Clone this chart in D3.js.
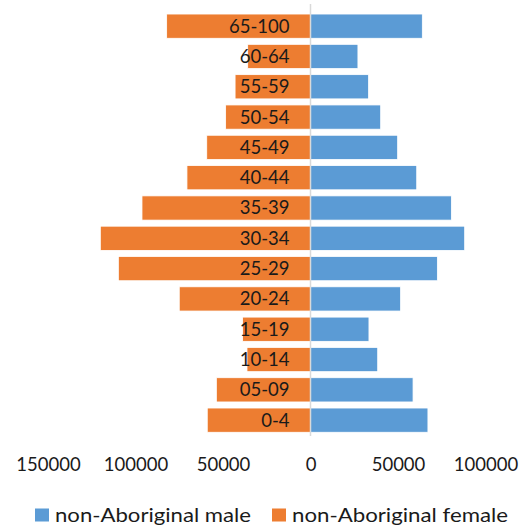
<!DOCTYPE html>
<html>
<head>
<meta charset="utf-8">
<script src="https://cdn.jsdelivr.net/npm/d3@7"></script>
<style>
  html, body { margin: 0; padding: 0; background: #fff; }
  svg { display: block; font-family: Lato, "Open Sans", sans-serif; }
</style>
</head>
<body>
<svg id="chart" width="525" height="526"></svg>
<script>
// Age groups, youngest first
const ageGroups = ["0-4", "05-09", "10-14", "15-19", "20-24", "25-29", "30-34",
                   "35-39", "40-44", "45-49", "50-54", "55-59", "60-64", "65-100"];
const maleValues = [67100, 58600, 38400, 33400, 51500, 72500, 88100,
                    80500, 60700, 49800, 40100, 33200, 27100, 63900];
const femaleValues = [59000, 53800, 36300, 38800, 75000, 109800, 120100,
                      96300, 70600, 59300, 48500, 43100, 35900, 82200];
const tickValues = [-150000, -100000, -50000, 0, 50000, 100000];
const seriesNames = ["non-Aboriginal male", "non-Aboriginal female"];
const seriesColors = ["#5B9BD5", "#ED7D31"];

const svg = d3.select("#chart");

const x = d3.scaleLinear().domain([-150000, 100000]).range([48, 485.5]);
const y = d3.scaleBand()
  .domain(ageGroups.slice().reverse())
  .range([11, 435.3])
  .paddingInner(0.2)
  .paddingOuter(0.1);

const rows = ageGroups.map((g, i) => ({ group: g, male: maleValues[i], female: femaleValues[i] }));

// Female bars extend to the left of zero
svg.append("g").selectAll("rect")
  .data(rows)
  .join("rect")
  .attr("x", d => x(-d.female))
  .attr("y", d => y(d.group))
  .attr("width", d => x(0) - x(-d.female))
  .attr("height", y.bandwidth())
  .attr("fill", seriesColors[1])
  .attr("stroke", "#fff")
  .attr("stroke-width", 0.8);

// Male bars extend to the right
svg.append("g").selectAll("rect")
  .data(rows)
  .join("rect")
  .attr("x", x(0))
  .attr("y", d => y(d.group))
  .attr("width", d => x(d.male) - x(0))
  .attr("height", y.bandwidth())
  .attr("fill", seriesColors[0])
  .attr("stroke", "#fff")
  .attr("stroke-width", 0.8);

// Zero line
svg.append("line")
  .attr("x1", x(0)).attr("x2", x(0))
  .attr("y1", 4).attr("y2", 436)
  .attr("stroke", "#D9D9D9")
  .attr("stroke-width", 1.5);

// Category labels sit just left of the zero line
svg.append("g").selectAll("text")
  .data(rows)
  .join("text")
  .attr("x", x(0) - 21)
  .attr("y", d => y(d.group) + y.bandwidth() / 2)
  .attr("dy", "0.35em")
  .attr("text-anchor", "end")
  .attr("font-size", 18.5)
  .attr("fill", "#1a1a1a")
  .text(d => d.group);

// Value axis without domain or tick lines
const xAxis = d3.axisBottom(x)
  .tickValues(tickValues)
  .tickFormat(d => String(Math.abs(d)))
  .tickSize(0);
const axisG = svg.append("g")
  .attr("transform", "translate(0,455)")
  .call(xAxis);
axisG.select(".domain").remove();
axisG.selectAll("text")
  .attr("font-size", 18.5)
  .attr("font-family", "Lato, 'Open Sans', sans-serif")
  .attr("fill", "#1a1a1a")
  .attr("dy", "0.71em");

// Legend
const legendItems = [
  { name: seriesNames[0], color: seriesColors[0], x: 35, w: 196 },
  { name: seriesNames[1], color: seriesColors[1], x: 272, w: 216 }
];
const legend = svg.append("g").selectAll("g")
  .data(legendItems)
  .join("g")
  .attr("transform", d => `translate(${d.x},508.5)`);
legend.append("rect")
  .attr("width", 14).attr("height", 13)
  .attr("fill", d => d.color);
legend.append("text")
  .attr("x", 20)
  .attr("y", 13.2)
  .attr("font-size", 20)
  .attr("textLength", d => d.w)
  .attr("lengthAdjust", "spacingAndGlyphs")
  .attr("fill", "#1a1a1a")
  .text(d => d.name);
</script>
</body>
</html>
